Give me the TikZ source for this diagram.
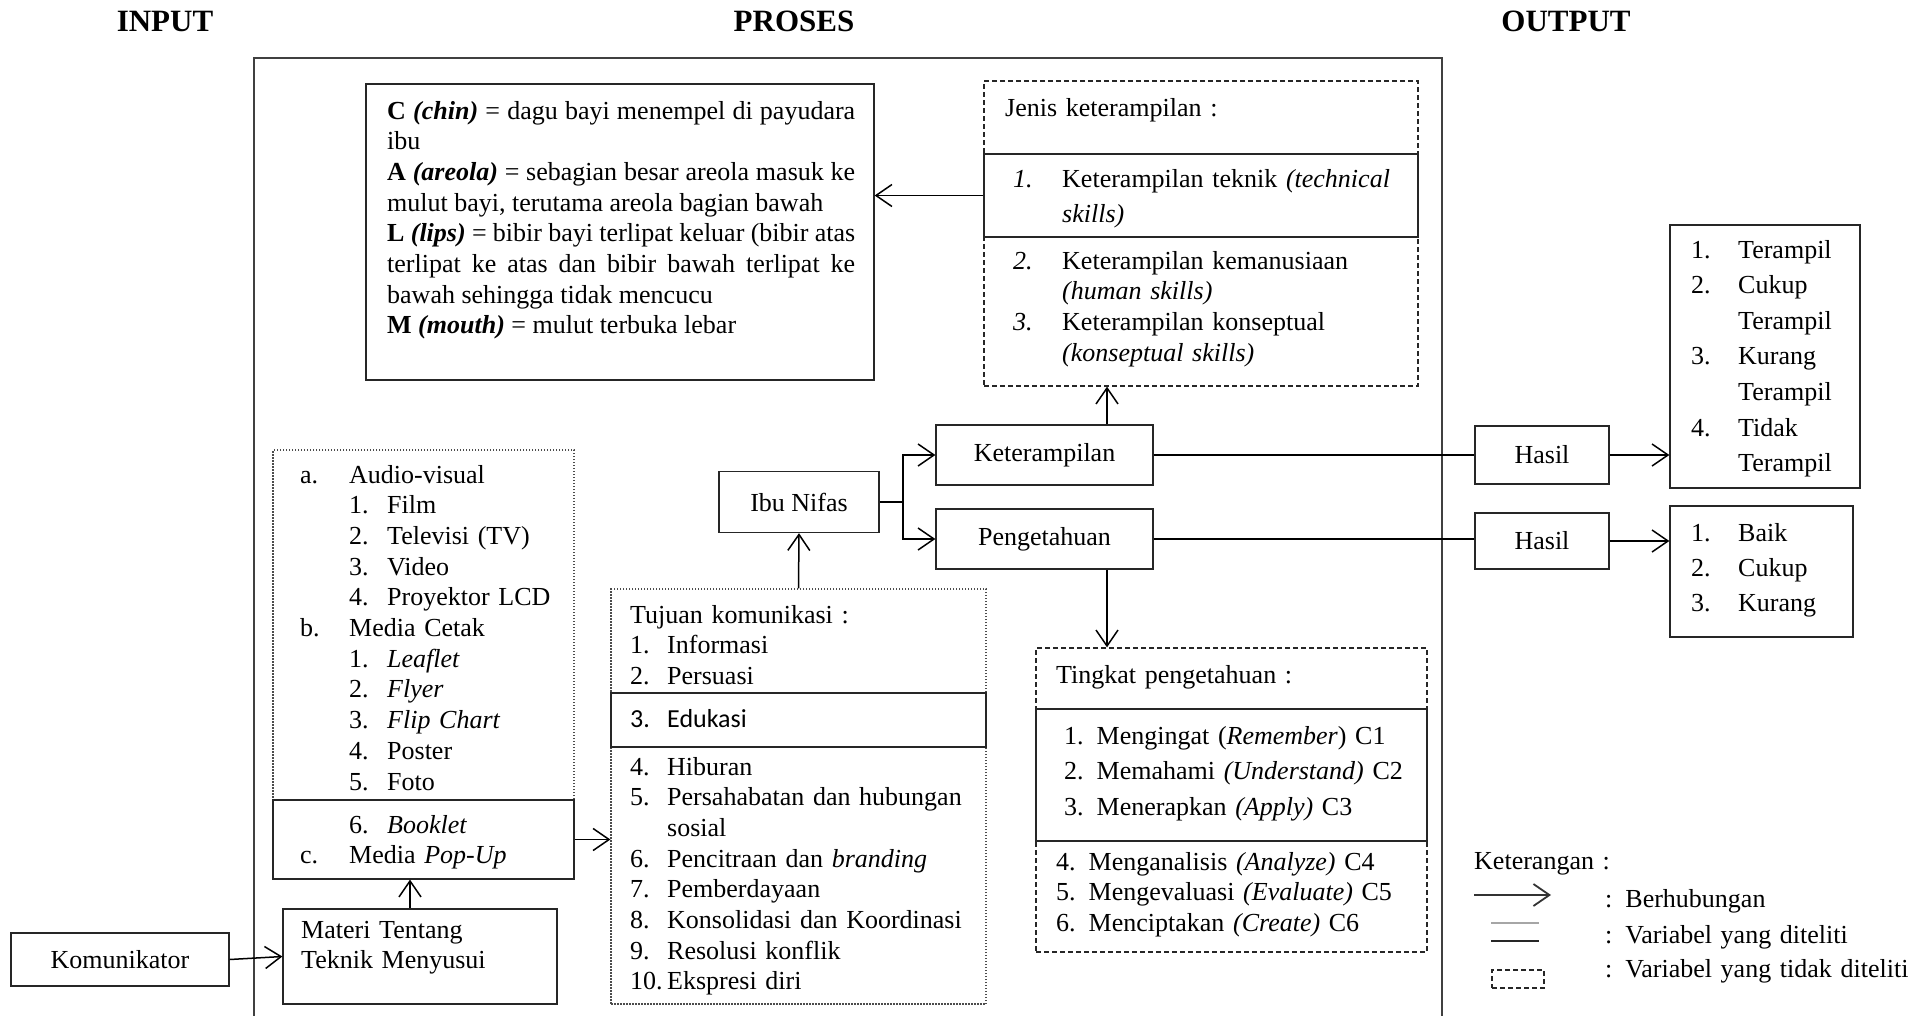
\documentclass[tikz,border=0pt]{standalone}
\usepackage{fontspec}
\setmainfont{Liberation Serif}
\newfontfamily\calibri{Carlito}
\usepackage{tikz}
\usetikzlibrary{arrows.meta, positioning, fit, calc}

\newcommand{\numb}[2]{\makebox[#1][l]{#2}}

\tikzset{
  box/.style={draw=black!85, line width=1.3pt, inner sep=0pt},
  dashbox/.style={draw=black!85, line width=1.3pt, dash pattern=on 5pt off 3pt, inner sep=0pt},
  dotbox/.style={draw=black!70, line width=1.2pt, dash pattern=on 1.5pt off 1.5pt, inner sep=0pt},
  txt/.style={inner sep=0pt, anchor=base west, align=left},
  arr/.style={-{Straight Barb[length=16pt, width=22pt]}, line width=1.5pt},
  head/.style={font=\fontsize{31}{36}\selectfont\bfseries, anchor=base}
}

\begin{document}
\begin{tikzpicture}[x=1pt, y=-1pt, font=\fontsize{26}{30.7}\selectfont]
    \useasboundingbox (0,0) rectangle (1927,1015);

    % Headings
    \node[head] (tin) at (165,31) {INPUT};
    \node[head] (tpro) at (794,31) {PROSES};
    \node[head] (tout) at (1566,31) {OUTPUT};

    % Process frame
    \draw[line width=2pt, black!75] (254,1020) -- (254,58) -- (1442,58) -- (1442,1020);

    % CALM box
    \node[box, fit={(366,84) (874,380)}] (calm) {};
    \node[txt, align=justify, text width=468pt] (calmtxt) at (387,119) {%
      \textbf{C \textit{(chin)}} = dagu bayi menempel di payudara\linebreak
      ibu\\
      \textbf{A \textit{(areola)}} = sebagian besar areola masuk ke\linebreak
      mulut bayi, terutama areola bagian bawah\\
      \textbf{L \textit{(lips)}} = bibir bayi terlipat keluar (bibir atas\linebreak
      terlipat ke atas dan bibir bawah terlipat ke\linebreak
      bawah sehingga tidak mencucu\\
      \textbf{M \textit{(mouth)}} = mulut terbuka lebar};

    % Jenis keterampilan
    \node[dashbox, fit={(984,81) (1418,386)}] (jenis) {};
    \node[box, fit={(984,154) (1418,237)}] (jenisin) {};
    \node[txt, text width=380pt] (jenistt) at (1005,116) {Jenis keterampilan :};
    \node[txt, text width=400pt] (jenisls) at (1013,187) {%
      \numb{49pt}{\textit{1.}}Keterampilan teknik \textit{(technical}\\[4.3pt]
      \hspace*{49pt}\textit{skills)}\\[16.3pt]
      \numb{49pt}{\textit{2.}}Keterampilan kemanusiaan\\
      \hspace*{49pt}\textit{(human skills)}\\
      \numb{49pt}{\textit{3.}}Keterampilan konseptual\\
      \hspace*{49pt}\textit{(konseptual skills)}};

    % Variables
    \node[box, minimum width=160pt, minimum height=61pt] (ibu) at (799,502) {Ibu Nifas};
    \node[box, minimum width=217pt, minimum height=60pt] (ket) at (1044.5,455) {Keterampilan};
    \node[box, minimum width=217pt, minimum height=60pt] (peng) at (1044.5,539) {Pengetahuan};
    \coordinate (jn) at (903,502);
    \coordinate (skillx) at (1107,0);

    % Tingkat pengetahuan
    \node[dashbox, fit={(1036,648) (1427,952)}] (tingkat) {};
    \node[box, fit={(1036,709) (1427,841)}] (tingkatin) {};
    \node[txt, text width=360pt] (tingkattt) at (1056,683) {Tingkat pengetahuan :};
    \node[txt, text width=360pt] (tingkatls) at (1064,744) {%
      1. Mengingat (\textit{Remember}) C1\\[4.8pt]
      2. Memahami \textit{(Understand)} C2\\[4.8pt]
      3. Menerapkan \textit{(Apply)} C3};
    \node[txt, text width=360pt] (tingkatls2) at (1056,870) {%
      4. Menganalisis \textit{(Analyze)} C4\\
      5. Mengevaluasi \textit{(Evaluate)} C5\\
      6. Menciptakan \textit{(Create)} C6};

    % Tujuan komunikasi
    \node[dotbox, fit={(611,589) (986,1004)}] (tujuan) {};
    \node[box, fit={(611,693) (986,747)}] (tujuanin) {};
    \node[txt, text width=350pt] (tujuantt) at (630,623) {%
      Tujuan komunikasi :\\
      \numb{37pt}{1.}Informasi\\
      \numb{37pt}{2.}Persuasi};
    \node[txt, text width=350pt] (edukasi) at (630,727) {\calibri\numb{37pt}{3.}Edukasi};
    \node[txt, text width=350pt] (tujuanls) at (630,775) {%
      \numb{37pt}{4.}Hiburan\\
      \numb{37pt}{5.}Persahabatan dan hubungan\\
      \hspace*{37pt}sosial\\
      \numb{37pt}{6.}Pencitraan dan \textit{branding}\\
      \numb{37pt}{7.}Pemberdayaan\\
      \numb{37pt}{8.}Konsolidasi dan Koordinasi\\
      \numb{37pt}{9.}Resolusi konflik\\
      \numb{37pt}{10.}Ekspresi diri};

    % Media
    \node[dotbox, fit={(273,450) (574,879)}] (media) {};
    \node[box, fit={(273,800) (574,879)}] (mediain) {};
    \node[txt, text width=280pt] (medials) at (300,483) {%
      \numb{49pt}{a.}Audio-visual\\
      \hspace*{49pt}\numb{38pt}{1.}Film\\
      \hspace*{49pt}\numb{38pt}{2.}Televisi (TV)\\
      \hspace*{49pt}\numb{38pt}{3.}Video\\
      \hspace*{49pt}\numb{38pt}{4.}Proyektor LCD\\
      \numb{49pt}{b.}Media Cetak\\
      \hspace*{49pt}\numb{38pt}{1.}\textit{Leaflet}\\
      \hspace*{49pt}\numb{38pt}{2.}\textit{Flyer}\\
      \hspace*{49pt}\numb{38pt}{3.}\textit{Flip Chart}\\
      \hspace*{49pt}\numb{38pt}{4.}Poster\\
      \hspace*{49pt}\numb{38pt}{5.}Foto\\[12.3pt]
      \hspace*{49pt}\numb{38pt}{6.}\textit{Booklet}\\
      \numb{49pt}{c.}Media \textit{Pop-Up}};

    % Input
    \node[box, fit={(283,909) (557,1004)}] (materi) {};
    \node[txt, text width=260pt] (materitxt) at (301,938) {Materi Tentang\\Teknik Menyusui};
    \node[box, minimum width=218pt, minimum height=53pt] (kom) at (120,959.5) {Komunikator};

    % Output
    \node[box, minimum width=134pt, minimum height=58pt] (hasil1) at (1542,455) {Hasil};
    \node[box, minimum width=134pt, minimum height=56pt] (hasil2) at (1542,541) {Hasil};
    \node[box, fit={(1670,225) (1860,488)}] (out1) {};
    \node[txt, text width=180pt] (out1txt) at (1691,258) {%
      \numb{47pt}{1.}Terampil\\[4.9pt]
      \numb{47pt}{2.}Cukup\\[4.9pt]
      \hspace*{47pt}Terampil\\[4.9pt]
      \numb{47pt}{3.}Kurang\\[4.9pt]
      \hspace*{47pt}Terampil\\[4.9pt]
      \numb{47pt}{4.}Tidak\\[4.9pt]
      \hspace*{47pt}Terampil};
    \node[box, fit={(1670,506) (1853,637)}] (out2) {};
    \node[txt, text width=170pt] (out2txt) at (1691,541) {%
      \numb{47pt}{1.}Baik\\[4.5pt]
      \numb{47pt}{2.}Cukup\\[4.5pt]
      \numb{47pt}{3.}Kurang};

    % Connections
    \draw[arr] (kom.east) -- (materi.west);
    \draw[arr] ($(materi.north)+(-10,0)$) -- ($(materi.north |- media.south)+(-10,0)$);
    \draw[arr] (mediain.east) -- (mediain.east -| tujuan.west);
    \draw[arr] (tujuan.north) -- (ibu.south);
    \draw[line width=1.5pt] (ibu.east) -- (jn);
    \draw[arr] (jn) |- (ket.west);
    \draw[arr] (jn) |- (peng.west);
    \draw[arr] (ket.north -| skillx) -- (jenis.south -| skillx);
    \draw[arr] (peng.south -| skillx) -- (tingkat.north -| skillx);
    \draw[arr] (jenisin.west) -- (jenisin.west -| calm.east);
    \draw[line width=2pt] (ket.east) -- (ket.east -| hasil1.west);
    \draw[line width=1.5pt] (peng.east) -- (peng.east -| hasil2.west);
    \draw[arr] (hasil1.east) -- (hasil1.east -| out1.west);
    \draw[arr] (hasil2.east) -- (hasil2.east -| out2.west);

    % Legend
    \node[txt, text width=250pt] (keter) at (1474,869) {Keterangan :};
    \coordinate (lga) at (1474,895);
    \coordinate (lgb) at (1551,895);
    \coordinate (lgc) at (1491,923);
    \coordinate (lgd) at (1539,923);
    \coordinate (lge) at (1491,941);
    \coordinate (lgf) at (1539,941);
    \draw[arr, line width=1.8pt, black!80] (lga) -- (lgb);
    \draw[line width=1.2pt, black!35] (lgc) -- (lgd);
    \draw[line width=1.5pt, black!85] (lge) -- (lgf);
    \node[dashbox, minimum width=52pt, minimum height=18pt] (lgbox) at (1518,979) {};
    \node[txt, text width=320pt] (lg1) at (1605,907) {: Berhubungan};
    \node[txt, text width=320pt] (lg2) at (1605,943) {: Variabel yang diteliti};
    \node[txt, text width=320pt] (lg3) at (1605,977) {: Variabel yang tidak diteliti};
\end{tikzpicture}
\end{document}
